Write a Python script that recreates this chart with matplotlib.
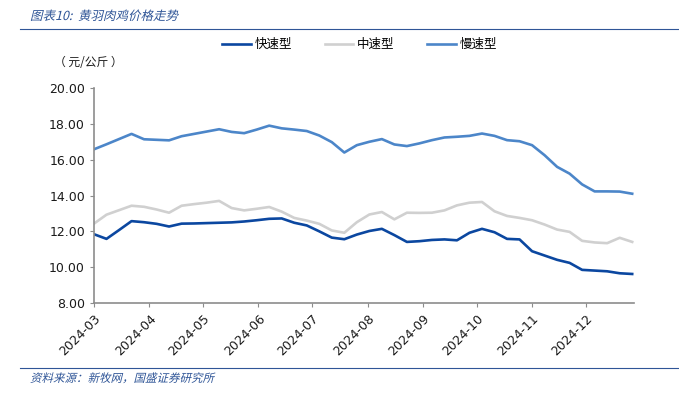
import matplotlib
matplotlib.use("Agg")
import matplotlib.pyplot as plt
import matplotlib.dates as mdates
from matplotlib.textpath import TextPath
from matplotlib.font_manager import FontProperties
from matplotlib.patches import PathPatch
from matplotlib.transforms import Affine2D
import numpy as np
import pandas as pd

plt.rcParams["font.family"] = ["Noto Sans CJK SC", "DejaVu Sans"]

# weekly price series, 元/公斤
dates = pd.date_range("2024-03-01", periods=44, freq="7D")

fast = [11.84, 11.58, 12.07, 12.57, 12.51, 12.42, 12.27, 12.43, 12.44, 12.46,
        12.48, 12.50, 12.55, 12.62, 12.70, 12.72, 12.48, 12.33, 12.00, 11.65,
        11.56, 11.82, 12.02, 12.14, 11.79, 11.41, 11.45, 11.52, 11.55, 11.50,
        11.92, 12.14, 11.95, 11.58, 11.55, 10.89, 10.65, 10.41, 10.24, 9.85,
        9.81, 9.77, 9.66, 9.62]
medium = [12.43, 12.93, 13.18, 13.43, 13.37, 13.22, 13.04, 13.43, 13.52, 13.60,
          13.70, 13.30, 13.17, 13.26, 13.36, 13.10, 12.75, 12.60, 12.42, 12.05,
          11.92, 12.51, 12.94, 13.08, 12.67, 13.04, 13.03, 13.04, 13.17, 13.45,
          13.60, 13.64, 13.12, 12.86, 12.75, 12.62, 12.38, 12.10, 11.97, 11.47,
          11.38, 11.34, 11.64, 11.41]
slow = [16.58, 16.86, 17.15, 17.44, 17.14, 17.11, 17.08, 17.31, 17.44, 17.57,
        17.70, 17.55, 17.48, 17.68, 17.90, 17.75, 17.68, 17.60, 17.35, 16.98,
        16.40, 16.81, 17.00, 17.15, 16.85, 16.76, 16.91, 17.09, 17.24, 17.28,
        17.33, 17.46, 17.33, 17.09, 17.03, 16.81, 16.25, 15.60, 15.22, 14.62,
        14.23, 14.23, 14.22, 14.10]

series = [("快速型", fast, "#0B47A0"),
          ("中速型", medium, "#D0D0D0"),
          ("慢速型", slow, "#4C86C9")]

month_ticks = pd.date_range("2024-03-01", "2024-12-01", freq="MS")

BLUE = "#2F5597"


def slanted_text(fig, x_px, y_px, s, size_px, color):
    """Draw text with a fake italic slant (CJK fonts have no italic face)."""
    fp = FontProperties(family="Noto Sans CJK SC")
    path = TextPath((0, 0), s, size=size_px, prop=fp)
    tr = Affine2D().skew_deg(14, 0).translate(x_px, y_px)
    patch = PathPatch(tr.transform_path(path), facecolor=color, edgecolor="none",
                      transform=None)
    fig.add_artist(patch)


fig = plt.figure(figsize=(6.79, 3.93), dpi=100)
ax = fig.add_axes([0.1384, 0.229, 0.7953, 0.547])

for name, vals, color in series:
    ax.plot(dates, vals, color=color, linewidth=1.9, label=name)

ax.set_ylim(8, 20)
ax.set_yticks(np.arange(8, 20.1, 2))
ax.yaxis.set_major_formatter(matplotlib.ticker.FormatStrFormatter("%.2f"))
ax.set_xlim(dates[0], pd.Timestamp("2024-12-28"))
ax.set_xticks(month_ticks)
ax.xaxis.set_major_formatter(mdates.DateFormatter("%Y-%m"))
for lbl in ax.get_xticklabels():
    lbl.set_rotation(45)
    lbl.set_ha("right")
    lbl.set_rotation_mode("anchor")

for side in ["top", "right"]:
    ax.spines[side].set_visible(False)
for side in ["left", "bottom"]:
    ax.spines[side].set_color("#8C8C8C")
    ax.spines[side].set_linewidth(1.2)
ax.tick_params(axis="both", direction="out", length=3, color="#8C8C8C",
               labelsize=9, labelcolor="#1A1A1A")
for lbl in ax.get_xticklabels() + ax.get_yticklabels():
    lbl.set_family("DejaVu Sans")

ax.legend(loc="lower center", bbox_to_anchor=(0.492, 1.12), ncol=3, frameon=False,
          fontsize=9, handlelength=2.3, handletextpad=0.3, columnspacing=2.6)

fig.text(0.08, 0.842, "（ 元/公斤 ）", fontsize=8.5, color="#1A1A1A", va="center")

# header / footer (y in pixels from bottom of a 393 px tall figure)
slanted_text(fig, 30, 393 - 20, "图表10:  黄羽肉鸡价格走势", 12.5, BLUE)
fig.add_artist(plt.Line2D([0.03, 1.0], [0.925, 0.925], color=BLUE, linewidth=0.8))
fig.add_artist(plt.Line2D([0.03, 1.0], [0.064, 0.064], color=BLUE, linewidth=0.8))
slanted_text(fig, 30, 393 - 382, "资料来源：新牧网，国盛证券研究所", 11.5, BLUE)

fig.savefig("out.png", dpi=100)
